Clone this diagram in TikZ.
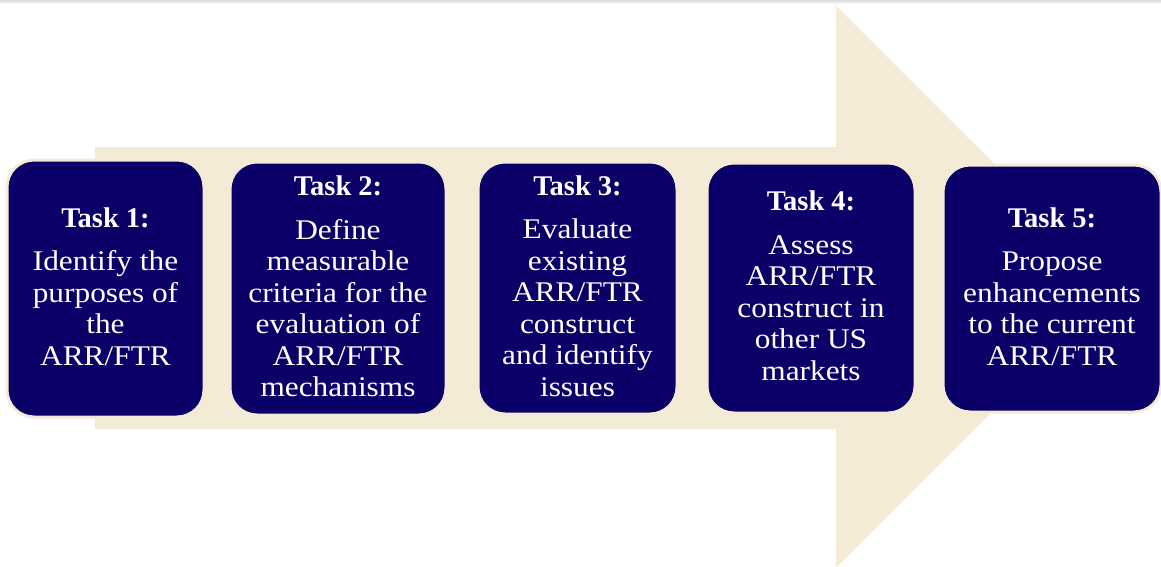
\documentclass[tikz,border=0pt]{standalone}
\usepackage{fontspec}
\setmainfont{Liberation Serif}[FakeStretch=1.1]
\newfontfamily\headfont{Liberation Serif}
\usetikzlibrary{shadings}
\definecolor{navy}{RGB}{11,0,104}
\definecolor{cream}{RGB}{243,235,214}
\tikzset{
  taskbox/.style={rectangle, rounded corners=27pt, fill=navy, draw=cream,
    line width=3pt, text=white, align=center, inner sep=0pt,
    font=\fontsize{28.5}{31.5}\selectfont},
  flow/.style={fill=cream, draw=none}
}
\newcommand{\taskhead}[1]{{\headfont\bfseries Task #1:}\\[12pt]}
% extra depth under the last line lifts the text block slightly
\newcommand{\lastline}{\rule[-4.5pt]{0pt}{1pt}}
\begin{document}
\begin{tikzpicture}[x=1pt, y=-1pt]
  \useasboundingbox (0,0) rectangle (1161,567);
  \fill[white] (0,0) rectangle (1161,567);
  % faint shadow along the top edge
  \shade[top color=black!14, bottom color=white] (0,0) rectangle (1161,4);
  % large block arrow behind the tasks
  \fill[flow] (95,147) -- (836,147) -- (836,6) -- (1117,286.5)
    -- (836,567.5) -- (836,429) -- (95,429) -- cycle;
  % task boxes
  \node[taskbox, minimum width=197pt, minimum height=257pt] (t1) at (105.5,288.5)
    {\taskhead{1}Identify the\\purposes of\\the\\ARR/FTR\lastline};
  \node[taskbox, minimum width=216pt, minimum height=253pt] (t2) at (338,288.5)
    {\taskhead{2}Define\\measurable\\criteria for the\\evaluation of\\ARR/FTR\\mechanisms\lastline};
  \node[taskbox, minimum width=199pt, minimum height=252pt] (t3) at (577.5,288)
    {\taskhead{3}Evaluate\\existing\\ARR/FTR\\construct\\and identify\\issues\lastline};
  \node[taskbox, minimum width=208pt, minimum height=250pt] (t4) at (811,288)
    {\taskhead{4}Assess\\ARR/FTR\\construct in\\other US\\markets\lastline};
  \node[taskbox, minimum width=218pt, minimum height=247pt] (t5) at (1052,288.5)
    {\taskhead{5}Propose\\enhancements\\to the current\\ARR/FTR\lastline};
\end{tikzpicture}
\end{document}
